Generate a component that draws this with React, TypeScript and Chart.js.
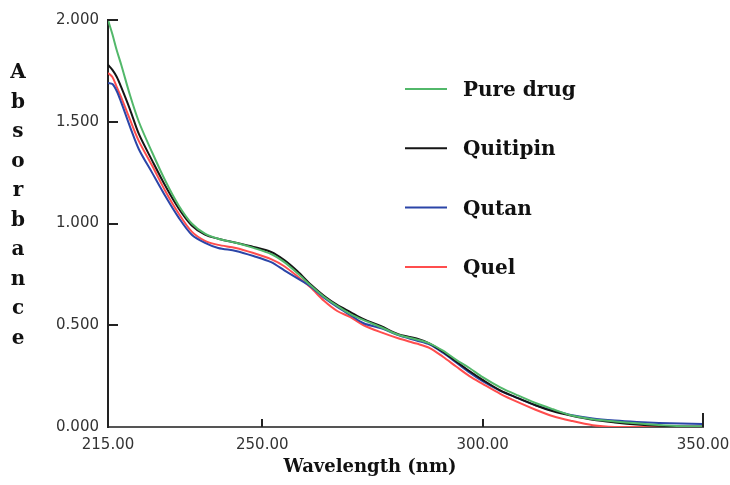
import React, { useEffect, useRef } from "react";
import { Chart, registerables } from "chart.js";

Chart.register(...registerables);

const wavelengths = [215, 216, 217, 218, 220, 222, 225, 228, 231, 234, 237, 240, 244, 248, 252, 255, 258, 261, 264, 267, 270, 273, 277, 281, 285, 288, 291, 294, 297, 300, 304, 308, 312, 316, 320, 325, 330, 335, 340, 345, 350];

const pureDrug = [2.0, 1.93, 1.85, 1.78, 1.63, 1.5, 1.35, 1.21, 1.09, 1.0, 0.95, 0.925, 0.905, 0.88, 0.85, 0.81, 0.755, 0.695, 0.64, 0.595, 0.555, 0.525, 0.49, 0.452, 0.43, 0.41, 0.375, 0.33, 0.29, 0.245, 0.195, 0.155, 0.118, 0.087, 0.058, 0.038, 0.027, 0.018, 0.01, 0.004, 0.002];

const quitipin = [1.78, 1.755, 1.72, 1.67, 1.56, 1.44, 1.31, 1.185, 1.075, 0.99, 0.945, 0.925, 0.905, 0.885, 0.86, 0.82, 0.765, 0.7, 0.645, 0.6, 0.565, 0.53, 0.495, 0.455, 0.435, 0.41, 0.37, 0.322, 0.275, 0.232, 0.18, 0.142, 0.107, 0.077, 0.056, 0.035, 0.022, 0.012, 0.006, 0.003, 0.002];

const qutan = [1.69, 1.685, 1.65, 1.595, 1.475, 1.365, 1.25, 1.135, 1.03, 0.945, 0.905, 0.88, 0.865, 0.84, 0.81, 0.77, 0.73, 0.69, 0.635, 0.59, 0.55, 0.51, 0.485, 0.45, 0.425, 0.405, 0.365, 0.317, 0.268, 0.225, 0.178, 0.142, 0.107, 0.081, 0.059, 0.042, 0.032, 0.025, 0.02, 0.017, 0.015];

const quel = [1.74, 1.72, 1.67, 1.62, 1.51, 1.405, 1.285, 1.16, 1.05, 0.96, 0.915, 0.895, 0.88, 0.855, 0.825, 0.79, 0.74, 0.685, 0.62, 0.57, 0.54, 0.5, 0.465, 0.435, 0.41, 0.388, 0.345, 0.297, 0.25, 0.212, 0.163, 0.122, 0.085, 0.053, 0.031, 0.009, 0.0, 0.0, 0.0, 0.0, 0.0];

const seriesLabels = ["Pure drug", "Quitipin", "Qutan", "Quel"];
const seriesColors = ["#52b86a", "#151515", "#2b45a8", "#ff4d4d"];
const seriesValues = [pureDrug, quitipin, qutan, quel];

const xTickValues = [215, 250, 300, 350];
const yTickValues = [0, 0.5, 1, 1.5, 2];
const yTitleLetters = "Absorbance".split("");
const xTitle = "Wavelength (nm)";

const decorPlugin = {
  id: "decor",
  afterDraw(chart: any) {
    const { ctx, chartArea, scales } = chart;
    const xs = scales.x;
    const ys = scales.y;
    ctx.save();
    // inward tick marks
    ctx.strokeStyle = "#222";
    ctx.lineWidth = 2;
    yTickValues.forEach((v) => {
      if (v === 0) return;
      const py = Math.round(ys.getPixelForValue(v));
      ctx.beginPath();
      ctx.moveTo(chartArea.left, py);
      ctx.lineTo(chartArea.left + 10, py);
      ctx.stroke();
    });
    xTickValues.forEach((v, i) => {
      if (i === 0) return;
      const px = Math.round(xs.getPixelForValue(v));
      const len = i === xTickValues.length - 1 ? 14 : 8;
      ctx.beginPath();
      ctx.moveTo(px, chartArea.bottom);
      ctx.lineTo(px, chartArea.bottom - len);
      ctx.stroke();
    });
    // legend
    chart.data.datasets.forEach((ds: any, i: number) => {
      const ly = 89 + i * 59.3;
      ctx.strokeStyle = ds.borderColor;
      ctx.lineWidth = 2;
      ctx.beginPath();
      ctx.moveTo(405, ly);
      ctx.lineTo(447, ly);
      ctx.stroke();
      ctx.fillStyle = "#111";
      ctx.font = "bold 20px 'DejaVu Serif'";
      ctx.textAlign = "left";
      ctx.textBaseline = "alphabetic";
      ctx.fillText(ds.label, 463, ly + 7);
    });
    // y title, stacked letters
    ctx.fillStyle = "#111";
    ctx.font = "bold 20px 'DejaVu Serif'";
    ctx.textAlign = "center";
    ctx.textBaseline = "alphabetic";
    yTitleLetters.forEach((ch, i) => {
      ctx.fillText(ch, 18, 78 + i * 29.5);
    });
    // x title
    ctx.font = "bold 18px 'DejaVu Serif'";
    ctx.textBaseline = "middle";
    ctx.fillText(xTitle, 370, 467);
    ctx.restore();
  },
};

export default function App() {
  const canvasRef = useRef<HTMLCanvasElement | null>(null);

  useEffect(() => {
    if (!canvasRef.current) return;
    const chart = new Chart(canvasRef.current, {
      type: "line",
      data: {
        datasets: seriesLabels.map((label, i) => ({
          label,
          data: wavelengths.map((w, j) => ({ x: w, y: seriesValues[i][j] })),
          borderColor: seriesColors[i],
          backgroundColor: seriesColors[i],
          borderWidth: 2,
          pointRadius: 0,
          tension: 0.3,
          fill: false,
        })),
      },
      options: {
        animation: false,
        responsive: true,
        maintainAspectRatio: false,
        layout: { padding: { left: 0, top: 20, right: 27, bottom: 0 } },
        plugins: {
          legend: { display: false },
          tooltip: { enabled: false },
          title: { display: false },
        },
        scales: {
          x: {
            type: "linear",
            min: 215,
            max: 350,
            grid: { display: false, drawTicks: false },
            border: { display: true, color: "#555", width: 2 },
            afterBuildTicks: (scale: any) => {
              scale.ticks = xTickValues.map((v) => ({ value: v }));
            },
            afterFit: (scale: any) => {
              scale.height = 58;
              scale.paddingLeft = 0;
              scale.paddingRight = 0;
            },
            ticks: {
              autoSkip: false,
              maxRotation: 0,
              padding: 9,
              color: "#333",
              font: { family: "'DejaVu Sans'", size: 15 },
              callback: (v: any) => Number(v).toFixed(2),
            },
          },
          y: {
            type: "linear",
            min: 0,
            max: 2,
            grid: { display: false, drawTicks: false },
            border: { display: true, color: "#222", width: 2 },
            afterBuildTicks: (scale: any) => {
              scale.ticks = yTickValues.map((v) => ({ value: v }));
            },
            afterFit: (scale: any) => {
              scale.width = 108;
              scale.paddingTop = 0;
              scale.paddingBottom = 0;
            },
            ticks: {
              padding: 9,
              color: "#333",
              font: { family: "'DejaVu Sans'", size: 15 },
              callback: (v: any) => Number(v).toFixed(3),
            },
          },
        },
      },
      plugins: [decorPlugin],
    } as any);
    return () => chart.destroy();
  }, []);

  return (
    <div style={{ position: "absolute", left: 0, top: 0, width: 730, height: 485 }}>
      <canvas ref={canvasRef} />
    </div>
  );
}
